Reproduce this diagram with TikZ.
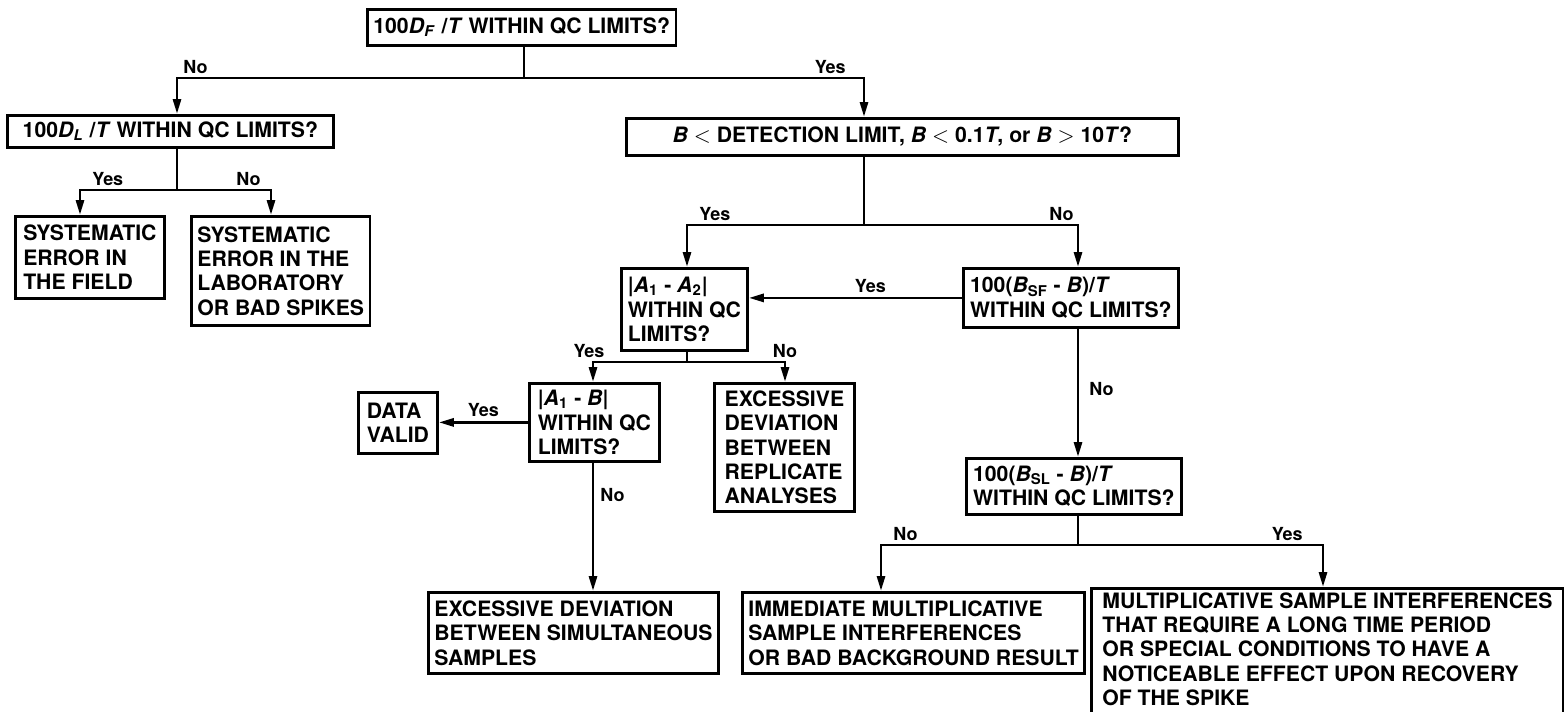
\documentclass[tikz,border=0pt]{standalone}
\usepackage{fontspec}
\setmainfont{TeX Gyre Heros}
\usetikzlibrary{arrows.meta}

\newcommand{\vr}[1]{\textit{#1}}

\tikzset{
  box/.style={draw, line width=1.4pt, anchor=north west, align=left,
    inner xsep=3pt, inner ysep=3pt,
    font=\bfseries\fontsize{10.6}{12.2}\selectfont},
  lbl/.style={font=\bfseries\fontsize{9}{11}\selectfont, inner sep=1pt},
  ln/.style={line width=1.4pt},
}

\begin{document}
\begin{tikzpicture}[x=0.5pt, y=-0.5pt, >={Triangle[length=7.5pt,width=4pt]}]
            \useasboundingbox (0,0) rectangle (1564,712);

            % Question boxes
            \node[box, minimum width=151.5pt, minimum height=18pt] (top) at (366,8) {100\vr{D}\textsubscript{\vr{F}} /\vr{T} WITHIN QC LIMITS?};
            \node[box, minimum width=163pt, minimum height=16pt] (dl) at (6,114) {100\vr{D}\textsubscript{\vr{L}} /\vr{T} WITHIN QC LIMITS?};
            \node[box, minimum width=276pt, minimum height=18.5pt] (det) at (625,117) {\vr{B} $<$ DETECTION LIMIT, \vr{B} $<$ 0.1\vr{T}, or \vr{B} $>$ 10\vr{T}?};
            \node[box, minimum width=63pt, minimum height=41pt] (a12) at (620,267) {|\vr{A}\textsubscript{1} - \vr{A}\textsubscript{2}|\\WITHIN QC\\LIMITS?};
            \node[box, minimum width=107.5pt, minimum height=29.5pt] (bsf) at (962,267) {100(\vr{B}\textsubscript{SF} - \vr{B})/\vr{T}\\WITHIN QC LIMITS?};
            \node[box, minimum width=65pt, minimum height=39pt] (a1b) at (528,382) {|\vr{A}\textsubscript{1} - \vr{B}|\\WITHIN QC\\LIMITS?};
            \node[box, minimum width=107.5pt, minimum height=28pt] (bsl) at (965,457) {100(\vr{B}\textsubscript{SL} - \vr{B})/\vr{T}\\WITHIN QC LIMITS?};

            % Outcome boxes
            \node[box, minimum width=74.5pt, minimum height=41pt] (field) at (14,215) {SYSTEMATIC\\ERROR IN\\THE FIELD};
            \node[box, minimum width=86.5pt, minimum height=54.5pt] (lab) at (190,215) {SYSTEMATIC\\ERROR IN THE\\LABORATORY\\OR BAD SPIKES};
            \node[box, minimum width=39.5pt, minimum height=30.5pt] (valid) at (357,391) {DATA\\VALID};
            \node[box, minimum width=70pt, minimum height=64pt] (rep) at (713,382) {EXCESSIVE\\DEVIATION\\BETWEEN\\REPLICATE\\ANALYSES};
            \node[box, anchor=north east, minimum height=40.5pt] (sim) at (720,591) {EXCESSIVE DEVIATION\\BETWEEN SIMULTANEOUS\\SAMPLES};
            \node[box, minimum width=170.5pt, minimum height=40.5pt] (imm) at (741,591) {IMMEDIATE MULTIPLICATIVE\\SAMPLE INTERFERENCES\\OR BAD BACKGROUND RESULT};
            \begin{scope}
              \clip (0,0) rectangle (1564,712);
              \node[box, minimum width=236pt, inner ysep=2pt, text depth=8pt] (mult) at (1090,587) {MULTIPLICATIVE SAMPLE INTERFERENCES\\THAT REQUIRE A LONG TIME PERIOD\\OR SPECIAL CONDITIONS TO HAVE A\\NOTICEABLE EFFECT UPON RECOVERY\\OF THE SPIKE};
            \end{scope}

            % Branch points
            \coordinate (j1) at (524,78);
            \coordinate (c1) at (177,78);
            \coordinate (c2) at (864,78);
            \coordinate (c3) at (80,190);
            \coordinate (c4) at (271,190);
            \coordinate (c5) at (687,225);
            \coordinate (c6) at (1078,225);
            \coordinate (c7) at (593,362);
            \coordinate (c8) at (785,362);
            \coordinate (c9) at (881,545);
            \coordinate (c10) at (1323,545);

            % Top split
            \draw[ln] (j1 |- top.south) -- (j1);
            \draw[ln, <->] (c1 |- dl.north) -- (c1) -- (c2) -- (c2 |- det.north);
            \node[lbl, anchor=south west, xshift=2pt, yshift=1pt] at (c1) {No};
            \node[lbl, anchor=south east, xshift=-8pt, yshift=1pt] at (c2) {Yes};

            % Field or laboratory
            \draw[ln] (c1 |- dl.south) -- (c1 |- c3);
            \draw[ln, <->] (c3 |- field.north) -- (c3) -- (c4) -- (c4 |- lab.north);
            \node[lbl, anchor=south west, xshift=5pt, yshift=1pt] at (c3) {Yes};
            \node[lbl, anchor=south east, xshift=-4pt, yshift=1pt] at (c4) {No};

            % Background check
            \draw[ln] (c2 |- det.south) -- (c2 |- c5);
            \draw[ln, <->] (c5 |- a12.north) -- (c5) -- (c6) -- (c6 |- bsf.north);
            \node[lbl, anchor=south west, xshift=5pt, yshift=1pt] at (c5) {Yes};
            \node[lbl, anchor=south east, xshift=-1pt, yshift=1pt] at (c6) {No};

            % Replicates
            \draw[ln, ->] (bsf.west) -- node[lbl, above, pos=0.43, yshift=1pt] {Yes} (bsf.west -| a12.east);
            \draw[ln] (c5 |- a12.south) -- (c5 |- c7);
            \draw[ln, <->] (c7 |- a1b.north) -- (c7) -- (c8) -- (c8 |- rep.north);
            \node[lbl, anchor=south, xshift=-2pt, yshift=1pt] at (c7) {Yes};
            \node[lbl, anchor=south, yshift=1pt] at (c8) {No};

            % Simultaneous samples
            \draw[ln, ->] (a1b.west) -- node[lbl, above, yshift=1pt] {Yes} (a1b.west -| valid.east);
            \draw[ln, ->] (c7 |- a1b.south) -- node[lbl, right, pos=0.25, xshift=2pt] {No} (c7 |- sim.north);

            % Spikes
            \draw[ln, ->] (c6 |- bsf.south) -- node[lbl, right, pos=0.47, xshift=4pt] {No} (c6 |- bsl.north);
            \draw[ln] (c6 |- bsl.south) -- (c6 |- c9);
            \draw[ln, <->] (c9 |- imm.north) -- (c9) -- (c10) -- (c10 |- mult.north);
            \node[lbl, anchor=south west, xshift=5pt, yshift=1pt] at (c9) {No};
            \node[lbl, anchor=south east, xshift=-9pt, yshift=1pt] at (c10) {Yes};
        \end{tikzpicture}
\end{document}
